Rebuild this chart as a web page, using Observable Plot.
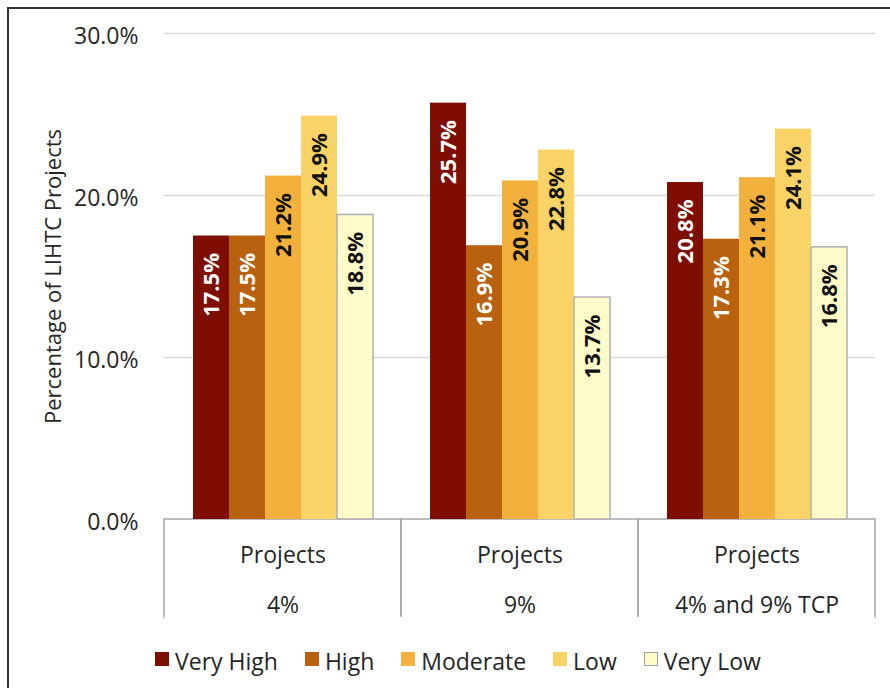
<!DOCTYPE html>
<html>
<head>
<meta charset="utf-8">
<script src="https://cdn.jsdelivr.net/npm/d3@7"></script>
<script src="https://cdn.jsdelivr.net/npm/@observablehq/plot@0.6"></script>
<style>
  html, body { margin: 0; padding: 0; background: #fff; overflow: hidden; }
  #wrap { position: relative; width: 890px; height: 688px; }
  #frame { position: absolute; left: 7px; top: 7px; width: 1000px; height: 1000px;
           border-top: 2px solid #333; border-left: 2px solid #333; pointer-events: none; }
  #chart { position: absolute; left: 0; top: 0; }
  #legend { position: absolute; left: 155px; top: 645px; display: flex; align-items: center;
            font-family: "Open Sans", sans-serif; font-size: 23px; color: #262626; white-space: nowrap; }
  #legend .item { display: flex; align-items: center; margin-right: 27px; }
  #legend .sw { width: 14px; height: 14px; margin-right: 6px; box-sizing: border-box; position: relative; top: -2px; }
</style>
</head>
<body>
<div id="wrap">
  <div id="chart"></div>
  <div id="legend"></div>
  <div id="frame"></div>
</div>
<script>
const groups = ["4%", "9%", "4% and 9% TCP"];
const groupTitle = "Projects";
const categories = ["Very High", "High", "Moderate", "Low", "Very Low"];
const values4 = [17.5, 17.5, 21.2, 24.9, 18.8];
const values9 = [25.7, 16.9, 20.9, 22.8, 13.7];
const valuesTCP = [20.8, 17.3, 21.1, 24.1, 16.8];
const colors = ["#7d0e00", "#b8620f", "#f2b13d", "#fad367", "#fffcc9"];
const yTicks = [0, 0.1, 0.2, 0.3];
const yLabel = "Percentage of LIHTC Projects";

const seriesByGroup = [values4, values9, valuesTCP];
const rows = [];
groups.forEach((g, gi) => categories.forEach((c, ci) => rows.push({group: g, category: c, value: seriesByGroup[gi][ci] / 100})));

const darkCats = new Set(["Very High", "High"]);
const fmt = d3.format(".1%");

const plot = Plot.plot({
  width: 890,
  height: 640,
  marginLeft: 163,
  marginRight: 15,
  marginTop: 33,
  marginBottom: 121,
  style: {fontFamily: "Open Sans, sans-serif", fontSize: "23px", color: "#262626", background: "transparent"},
  fx: {domain: groups, padding: 0, axis: null},
  x: {domain: categories, paddingInner: 0, paddingOuter: 0.75, axis: null},
  y: {domain: [0, 0.3], axis: null},
  color: {domain: categories, range: colors},
  marks: [
    Plot.ruleY(yTicks.slice(1), {stroke: "#d9d9d9", strokeWidth: 1.5}),
    Plot.axisY(yTicks, {tickSize: 0, tickPadding: 26, tickFormat: fmt, dy: 3, label: null, fontSize: 23, fill: "#262626"}),
    Plot.rect([0], {y1: () => 0, y2: () => -0.061, fill: "none", stroke: "#a6a6a6", strokeWidth: 1.5}),
    Plot.ruleY([-0.061], {stroke: "white", strokeWidth: 3}),
    Plot.barY(rows, {fx: "group", x: "category", y: "value", fill: "category"}),
    Plot.barY(rows, {filter: d => d.category === "Very Low", fx: "group", x: "category", y: "value", fill: "none", stroke: "#b0b0b0", strokeWidth: 1.5}),
    Plot.text(rows, {filter: d => darkCats.has(d.category), fx: "group", x: "category", y: "value", text: d => fmt(d.value),
      rotate: -90, textAnchor: "end", dy: 17, fontWeight: "bold", fontSize: 22, fill: "white"}),
    Plot.text(rows, {filter: d => !darkCats.has(d.category), fx: "group", x: "category", y: "value", text: d => fmt(d.value),
      rotate: -90, textAnchor: "end", dy: 17, fontWeight: "bold", fontSize: 22, fill: "#111"}),
    Plot.text(groups, {fx: d => d, text: () => groupTitle, frameAnchor: "bottom", lineAnchor: "middle", dy: 36, fontSize: 23, fill: "#262626"}),
    Plot.text(groups, {fx: d => d, text: d => d, frameAnchor: "bottom", lineAnchor: "middle", dy: 86, fontSize: 23, fill: "#262626"}),
    Plot.text([yLabel], {fx: () => groups[0], text: d => d, frameAnchor: "left", textAnchor: "middle", lineAnchor: "middle", rotate: -90, dx: -111, fontSize: 22, fill: "#262626"})
  ]
});
document.getElementById("chart").appendChild(plot);

const legend = document.getElementById("legend");
categories.forEach((c, i) => {
  const item = document.createElement("div");
  item.className = "item";
  const sw = document.createElement("div");
  sw.className = "sw";
  sw.style.background = colors[i];
  if (c === "Very Low") sw.style.border = "1.5px solid #a0a0a0";
  const t = document.createElement("span");
  t.textContent = c;
  item.appendChild(sw);
  item.appendChild(t);
  legend.appendChild(item);
});
</script>
</body>
</html>
